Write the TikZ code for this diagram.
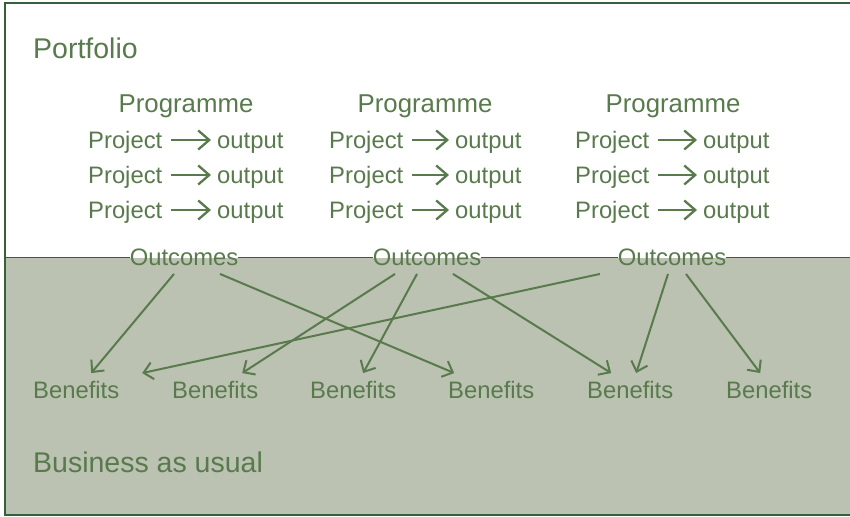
\documentclass[tikz,border=0pt]{standalone}
\usepackage{fontspec}
\setmainfont{Liberation Sans}
\usetikzlibrary{arrows.meta}
\definecolor{txt}{HTML}{587A4C}
\definecolor{framec}{HTML}{34603A}
\definecolor{bau}{HTML}{BBC2B1}
\tikzset{
  lbl/.style={inner sep=0pt, text=txt},
  big/.style={lbl, font=\fontsize{28.5pt}{32pt}\selectfont},
  prog/.style={lbl, font=\fontsize{25.8pt}{30pt}\selectfont},
  small/.style={lbl, font=\fontsize{23.8pt}{28pt}\selectfont},
  flow/.style={draw=txt, line width=2.3pt, -{Straight Barb[length=11pt,width=19pt,line width=2.3pt]}},
  link/.style={draw=txt, line width=2pt, -{Straight Barb[length=9pt,width=17pt,line width=2pt]}},
}
\begin{document}
\begin{tikzpicture}[x=1pt,y=-1pt]
\fill[white] (0,0) rectangle (850,516);
\useasboundingbox (0,0) rectangle (850,516);
% frame coordinates
\coordinate (tl) at (5,3);
\coordinate (tr) at (849.5,3);
\coordinate (bl) at (5,515);
\coordinate (br) at (849.5,515);
\coordinate (ml) at (5,257.5);
\coordinate (mr) at (849.5,257.5);
\fill[bau] (ml) rectangle (850,515);
\draw[framec, line width=2.5pt] (tr) -- (tl) -- (bl) -- (br);

% titles
\node[big, anchor=base west] (portfolio) at (33,59) {Portfolio};
\node[big, anchor=base west] (bau) at (33,472) {Business as usual};

% programmes
\node[prog, anchor=base] (pg1) at (186,112) {Programme};
\node[prog, anchor=base] (pg2) at (425,112) {Programme};
\node[prog, anchor=base] (pg3) at (673,112) {Programme};

% projects and outputs
\foreach \c/\px/\ox in {1/88/217, 2/329/455, 3/575/703}{
  \foreach \r/\yy in {1/148, 2/183, 3/218}{
    \node[small, anchor=base west] (p\c\r) at (\px,\yy) {Project};
    \node[small, anchor=base west] (q\c\r) at (\ox,\yy) {output};
    \draw[flow, shorten <=9pt, shorten >=6pt]
      ([yshift=8pt]p\c\r.base east) -- ([yshift=8pt]q\c\r.base west);
  }
}

% outcomes
\node[small, anchor=base] (o1) at (184,265.5) {Outcomes};
\node[small, anchor=base] (o2) at (427,265.5) {Outcomes};
\node[small, anchor=base] (o3) at (672,265.5) {Outcomes};

% divider line broken by the outcome labels
\draw[framec, line width=1.5pt] (ml) -- (o1.west -| ml) -- (o1.west);
\draw[framec, line width=1.5pt] (o1.east) -- (o2.west);
\draw[framec, line width=1.5pt] (o2.east) -- (o3.west);
\draw[framec, line width=1.5pt] (o3.east) -- (o3.east -| mr);

% benefits
\node[small, anchor=base west] (b1) at (33,398) {Benefits};
\node[small, anchor=base west] (b2) at (172,398) {Benefits};
\node[small, anchor=base west] (b3) at (310,398) {Benefits};
\node[small, anchor=base west] (b4) at (448,398) {Benefits};
\node[small, anchor=base west] (b5) at (587,398) {Benefits};
\node[small, anchor=base west] (b6) at (726,398) {Benefits};

% links
\draw[link] ([xshift=-10pt,yshift=-8pt]o1.south) -- ([xshift=15pt,yshift=7.5pt]b1.north);
\draw[link] ([xshift=36pt,yshift=-8pt]o1.south) -- ([xshift=-37pt,yshift=7.5pt]b4.north);
\draw[link] ([xshift=-32pt,yshift=-8pt]o2.south) -- ([xshift=27pt,yshift=7.5pt]b2.north);
\draw[link] ([xshift=-10pt,yshift=-8pt]o2.south) -- ([xshift=10pt,yshift=7.5pt]b3.north);
\draw[link] ([xshift=26pt,yshift=-8pt]o2.south) -- ([xshift=-19pt,yshift=7.5pt]b5.north);
\draw[link] ([xshift=-72pt,yshift=-8pt]o3.south) -- ([xshift=66pt,yshift=7.5pt]b1.north);
\draw[link] ([xshift=-4pt,yshift=-8pt]o3.south) -- ([xshift=6pt,yshift=7.5pt]b5.north);
\draw[link] ([xshift=14pt,yshift=-8pt]o3.south) -- ([xshift=-9pt,yshift=7.5pt]b6.north);
\end{tikzpicture}
\end{document}
